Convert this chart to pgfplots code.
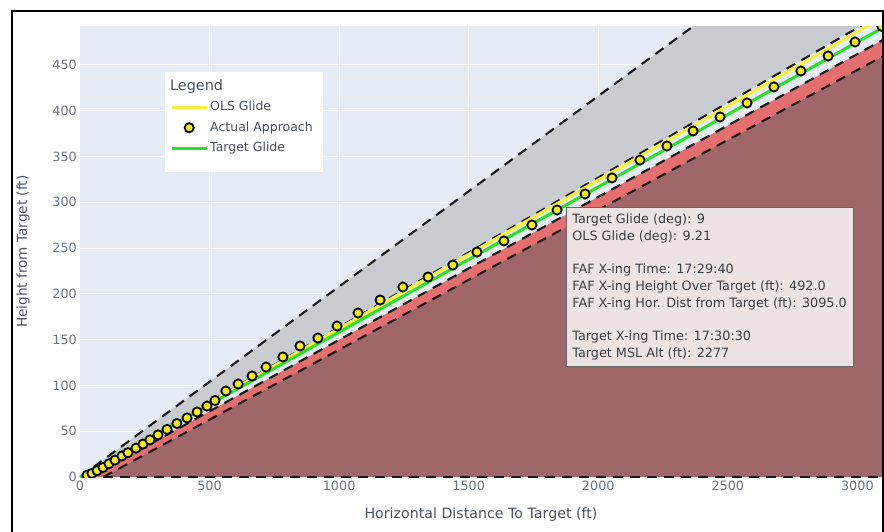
\documentclass[border=0pt]{standalone}
\usepackage{pgfplots}
\pgfplotsset{compat=1.18}
\usepackage{fontspec}
\setmainfont{DejaVu Sans}
\definecolor{plotbg}{RGB}{229,236,246}
\definecolor{grayfill}{RGB}{200,203,208}
\definecolor{redband}{RGB}{229,110,110}
\definecolor{maroonf}{RGB}{160,103,107}
\definecolor{olsyellow}{RGB}{245,240,60}
\definecolor{tgtgreen}{RGB}{40,225,40}
\definecolor{mkyellow}{RGB}{245,235,20}
\definecolor{tickc}{RGB}{105,115,130}
\definecolor{labc}{RGB}{70,80,100}
\definecolor{annbg}{RGB}{238,227,227}
\definecolor{anntext}{RGB}{60,62,70}
\definecolor{dashc}{RGB}{25,25,25}
\pgfplotsset{
  mylinelegend/.style={legend image code/.code={\draw[##1] (0pt,0pt) -- (35pt,0pt);}},
  mymarklegend/.style={legend image code/.code={\draw[##1] plot coordinates {(17.5pt,0pt)};}},
  dashline/.style={dashc, line width=2.1pt, dash pattern=on 10pt off 7pt, forget plot},
}
\begin{document}
\begin{tikzpicture}[x=1pt,y=1pt]
\useasboundingbox (0,0) rectangle (884,531);
\begin{axis}[
  at={(80pt,54pt)}, anchor=south west,
  scale only axis, width=802pt, height=450.5pt,
  xmin=0, xmax=3095, ymin=0, ymax=492,
  axis background/.style={fill=plotbg},
  axis line style={draw=none},
  xmajorgrids, ymajorgrids,
  grid style={white, line width=1pt},
  xtick={0,500,1000,1500,2000,2500,3000},
  ytick={0,50,100,150,200,250,300,350,400,450},
  major tick length=0pt,
  /pgf/number format/assume math mode=true,
  /pgf/number format/1000 sep={},
  tick label style={font=\fontsize{12.8}{15}\selectfont, text=tickc},
  xticklabel style={inner sep=4pt},
  yticklabel style={inner sep=3pt},
  xlabel={Horizontal Distance To Target (ft)},
  ylabel={Height from Target (ft)},
  xlabel style={at={([yshift=-38pt]axis description cs:0.5,0)}, anchor=center, font=\fontsize{14.2}{16}\selectfont, text=labc},
  ylabel style={at={([xshift=-57pt]axis description cs:0,0.5)}, anchor=center, font=\fontsize{13.6}{16}\selectfont, text=labc},
  clip marker paths=true,
  legend style={at={(0.106,0.899)}, anchor=north west, draw=none, fill=none,
    font=\fontsize{12.5}{15}\selectfont, text=labc, inner xsep=5pt, inner ysep=6pt,
    row sep=3.5pt, nodes={inner sep=2pt, text height=10pt, text depth=3pt}},
  legend cell align=left,
]
% regions
\addplot[draw=none, fill=grayfill, forget plot] coordinates {(0,0) (3095,643.8) (3095,506.0)} -- cycle;
\addplot[draw=none, fill=redband, forget plot] coordinates {(40,0) (3095,476.8) (3095,459.0) (90,0)} -- cycle;
\addplot[draw=none, fill=maroonf, forget plot] coordinates {(90,0) (3095,459.0) (3095,0)} -- cycle;
% dashed boundaries
\addplot[dashline] coordinates {(0,0) (3095,643.8)};
\addplot[dashline] coordinates {(0,0) (3095,506.0)};
\addplot[dashline] coordinates {(40,0) (3095,476.8)};
\addplot[dashline] coordinates {(90,0) (3095,459.0)};
\addplot[dashline] coordinates {(90,0) (3095,0)};
% OLS glide
\addplot[olsyellow, line width=3pt, forget plot] coordinates {(0,0) (3095,501.8)};
% target glide
\addplot[tgtgreen, line width=3pt, forget plot] coordinates {(0,0) (3095,490.2)};
% actual approach
\addplot[only marks, mark=*, mark size=4.6pt, mark options={fill=mkyellow, draw=black, line width=1.8pt}, forget plot] coordinates {
(27,2) (46,4) (66,7) (89,10.5) (112,14.5) (135,18.5) (162,23) (185,26.5)
(216,31.5) (243,36) (270,40.5) (301,46) (336,52) (374,58.5) (413,64.5)
(452,71) (490,77.5) (521,83.5) (563,93.9) (610,101.6) (664,110.3) (718,120.1)
(783,131.1) (849,143.1) (918,151.8) (992,164.9) (1073,179.1) (1158,193.3)
(1246,207.5) (1343,218.4) (1439,231.5) (1532,245.7) (1636,257.8) (1744,275.2)
(1841,291.6) (1949,309.1) (2053,326.6) (2161,346.2) (2265,361.5) (2366,377.9)
(2470,393.2) (2574,408.5) (2678,426.0) (2782,443.4) (2887,459.8) (2991,475.1)
(3095,492)
};
% legend background
\fill[white] (rel axis cs:0.106,0.899) rectangle (rel axis cs:0.303,0.677);
\addlegendimage{empty legend}
\addlegendentry{\hspace*{-40pt}\fontsize{14.4}{16}\selectfont Legend}
\addlegendimage{olsyellow, line width=3pt, mylinelegend}
\addlegendentry{OLS Glide}
\addlegendimage{only marks, mark=*, mark size=4.6pt, mark options={fill=mkyellow, draw=black, line width=1.8pt}, mymarklegend}
\addlegendentry{Actual Approach}
\addlegendimage{tgtgreen, line width=3pt, mylinelegend}
\addlegendentry{Target Glide}
\end{axis}
\node[anchor=north west, fill=annbg, draw=black!60, line width=0.6pt, inner xsep=6pt, inner ysep=6.5pt,
  align=left, text=anntext, font=\fontsize{12.8}{16.75}\selectfont] at (566,324)
  {Target Glide (deg): 9\\
   OLS Glide (deg): 9.21\\[16.75pt]
   FAF X-ing Time: 17:29:40\\
   FAF X-ing Height Over Target (ft): 492.0\\
   FAF X-ing Hor. Dist from Target (ft): 3095.0\\[16.75pt]
   Target X-ing Time: 17:30:30\\
   Target MSL Alt (ft): 2277};
\draw[line width=1.8pt, black] (12,-5) -- (12,520) -- (883,520) -- (883,-5);
\end{tikzpicture}
\end{document}
